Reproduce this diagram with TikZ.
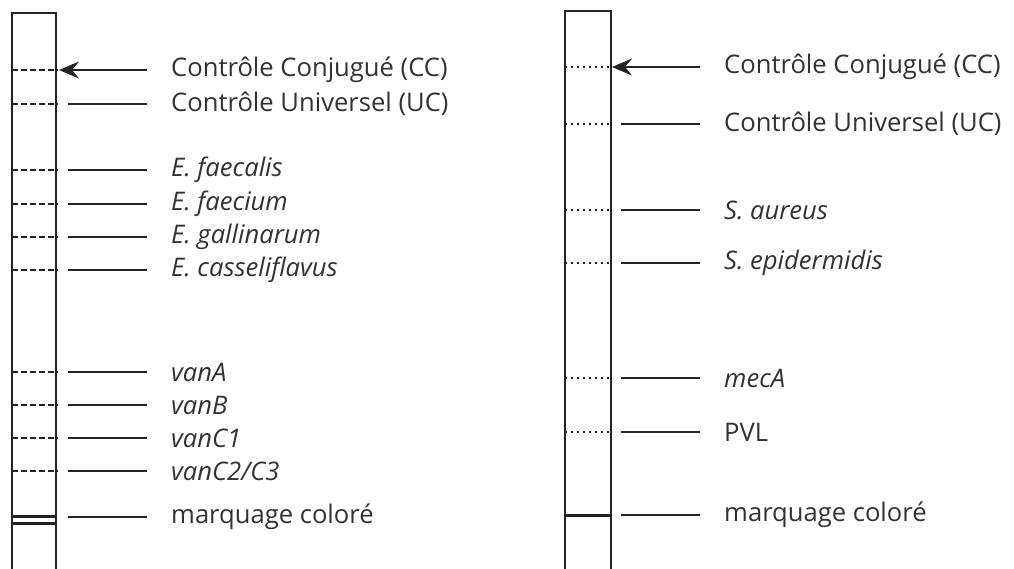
\documentclass[tikz,border=0pt]{standalone}
\usepackage{fontspec}
\setmainfont{Open Sans}
\usetikzlibrary{arrows.meta, positioning}
\definecolor{StripGray}{RGB}{35,35,35}
\definecolor{LabelGray}{RGB}{50,50,50}
\tikzset{
  strip/.style={draw=StripGray, line width=1.2pt},
  bandleft/.style={draw=StripGray, line width=1.2pt, dash pattern=on 6pt off 3pt},
  bandright/.style={draw=StripGray, line width=1.2pt, dash pattern=on 2pt off 4pt},
  marker/.style={draw=StripGray, line width=3pt},
  leader/.style={draw=StripGray, line width=1.2pt},
  pointer/.style={leader, -{Stealth[length=20pt, width=17pt, inset=7pt]}},
  bandlabel/.style={inner sep=0pt, text=LabelGray, font=\fontsize{25.6}{29}\selectfont}
}

\begin{document}
\begin{tikzpicture}[x=1pt, y=-1pt]
    \useasboundingbox (0,0) rectangle (1014,569);

    \draw[strip] (12,569) -- (12,13) -- (56,13) -- (56,569);
    \draw[strip] (565,569) -- (565,11) -- (611,11) -- (611,569);

    \draw[bandleft] (12,70) -- (58,70);
    \draw[bandleft] (12,104) -- (58,104);
    \draw[bandleft] (12,170) -- (58,170);
    \draw[bandleft] (12,204) -- (58,204);
    \draw[bandleft] (12,237) -- (58,237);
    \draw[bandleft] (12,270) -- (58,270);
    \draw[bandleft] (12,372) -- (58,372);
    \draw[bandleft] (12,405) -- (58,405);
    \draw[bandleft] (12,438) -- (58,438);
    \draw[bandleft] (12,471) -- (58,471);
    \draw[marker] (12,516) -- (56,516);
    \draw[marker] (12,523.5) -- (56,523.5);

    \draw[bandright] (565,67) -- (609,67);
    \draw[bandright] (565,124) -- (609,124);
    \draw[bandright] (565,210) -- (609,210);
    \draw[bandright] (565,263) -- (609,263);
    \draw[bandright] (565,378) -- (609,378);
    \draw[bandright] (565,432) -- (609,432);
    \draw[marker] (565,515) -- (611,515);

    \coordinate (lcc-a) at (59,70);     \coordinate (lcc-b) at (147,70);
    \coordinate (luc-a) at (68,104);    \coordinate (luc-b) at (147,104);
    \coordinate (lfs-a) at (68,170);    \coordinate (lfs-b) at (147,170);
    \coordinate (lfm-a) at (68,204);    \coordinate (lfm-b) at (147,204);
    \coordinate (lga-a) at (68,237);    \coordinate (lga-b) at (147,237);
    \coordinate (lca-a) at (68,270);    \coordinate (lca-b) at (147,270);
    \coordinate (lva-a) at (68,372);    \coordinate (lva-b) at (147,372);
    \coordinate (lvb-a) at (68,405);    \coordinate (lvb-b) at (147,405);
    \coordinate (lvc-a) at (68,438);    \coordinate (lvc-b) at (147,438);
    \coordinate (lvd-a) at (68,471);    \coordinate (lvd-b) at (147,471);
    \coordinate (lmc-a) at (68,517);    \coordinate (lmc-b) at (147,517);

    \coordinate (rcc-a) at (612,67);    \coordinate (rcc-b) at (700,67);
    \coordinate (ruc-a) at (621,124);   \coordinate (ruc-b) at (700,124);
    \coordinate (rsa-a) at (621,210);   \coordinate (rsa-b) at (700,210);
    \coordinate (rse-a) at (621,263);   \coordinate (rse-b) at (700,263);
    \coordinate (rme-a) at (621,378);   \coordinate (rme-b) at (700,378);
    \coordinate (rpv-a) at (621,432);   \coordinate (rpv-b) at (700,432);
    \coordinate (rmc-a) at (621,515);   \coordinate (rmc-b) at (700,515);

    \node[bandlabel, right=24pt of lcc-b] (lcc) {Contrôle Conjugué (CC)};
    \node[bandlabel, right=24pt of luc-b] (luc) {Contrôle Universel (UC)};
    \node[bandlabel, right=24pt of lfs-b] (lfs) {\itshape E. faecalis};
    \node[bandlabel, right=24pt of lfm-b] (lfm) {\itshape E. faecium};
    \node[bandlabel, right=24pt of lga-b] (lga) {\itshape E. gallinarum};
    \node[bandlabel, right=24pt of lca-b] (lca) {\itshape E. casseliflavus};
    \node[bandlabel, right=24pt of lva-b] (lva) {\itshape vanA};
    \node[bandlabel, right=24pt of lvb-b] (lvb) {\itshape vanB};
    \node[bandlabel, right=24pt of lvc-b] (lvc) {\itshape vanC1};
    \node[bandlabel, right=24pt of lvd-b] (lvd) {\itshape vanC2/C3};
    \node[bandlabel, right=24pt of lmc-b] (lmc) {marquage coloré};

    \node[bandlabel, right=24pt of rcc-b] (rcc) {Contrôle Conjugué (CC)};
    \node[bandlabel, right=24pt of ruc-b] (ruc) {Contrôle Universel (UC)};
    \node[bandlabel, right=24pt of rsa-b] (rsa) {\itshape S. aureus};
    \node[bandlabel, right=24pt of rse-b] (rse) {\itshape S. epidermidis};
    \node[bandlabel, right=24pt of rme-b] (rme) {\itshape mecA};
    \node[bandlabel, right=24pt of rpv-b] (rpv) {PVL};
    \node[bandlabel, right=24pt of rmc-b] (rmc) {marquage coloré};

    \draw[pointer] (lcc-b) -- (lcc-a);
    \draw[leader] (luc-b) -- (luc-a);
    \draw[leader] (lfs-b) -- (lfs-a);
    \draw[leader] (lfm-b) -- (lfm-a);
    \draw[leader] (lga-b) -- (lga-a);
    \draw[leader] (lca-b) -- (lca-a);
    \draw[leader] (lva-b) -- (lva-a);
    \draw[leader] (lvb-b) -- (lvb-a);
    \draw[leader] (lvc-b) -- (lvc-a);
    \draw[leader] (lvd-b) -- (lvd-a);
    \draw[leader] (lmc-b) -- (lmc-a);

    \draw[pointer] (rcc-b) -- (rcc-a);
    \draw[leader] (ruc-b) -- (ruc-a);
    \draw[leader] (rsa-b) -- (rsa-a);
    \draw[leader] (rse-b) -- (rse-a);
    \draw[leader] (rme-b) -- (rme-a);
    \draw[leader] (rpv-b) -- (rpv-a);
    \draw[leader] (rmc-b) -- (rmc-a);
  \end{tikzpicture}
\end{document}
